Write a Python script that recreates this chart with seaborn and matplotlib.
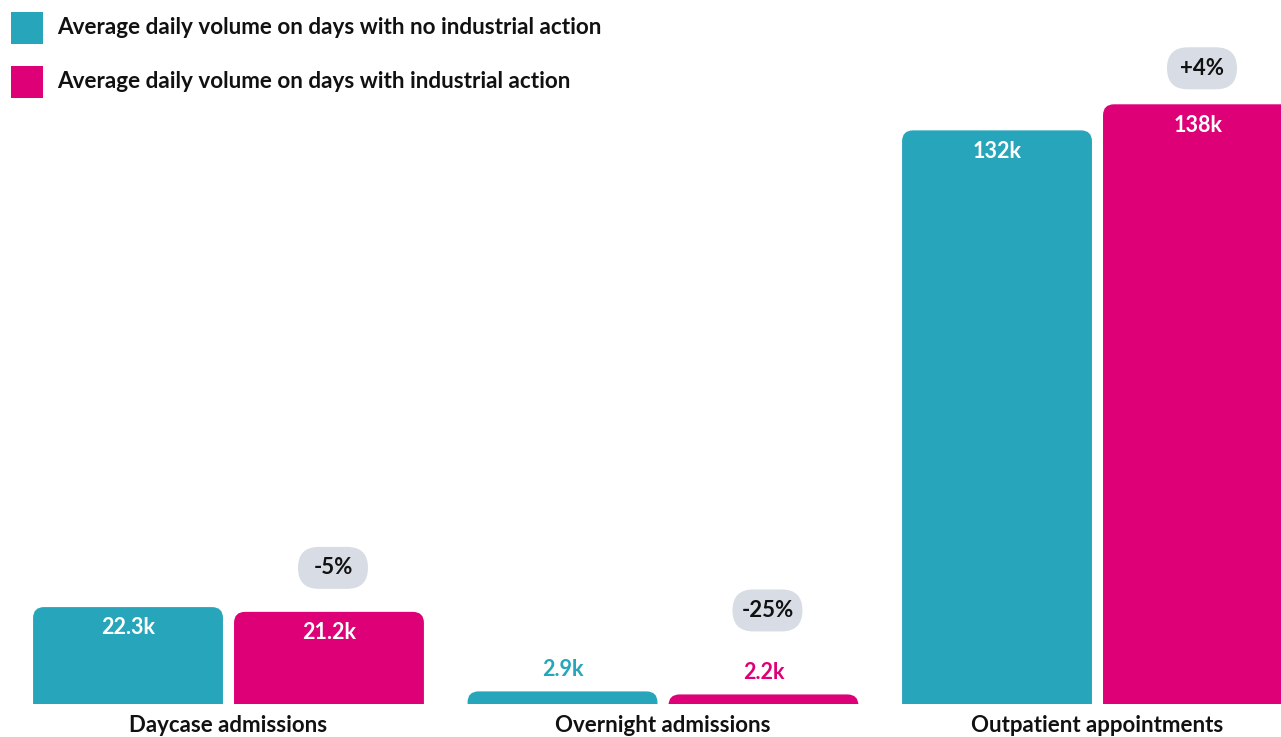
import matplotlib
matplotlib.use("Agg")
import matplotlib.pyplot as plt
import matplotlib.transforms as mtransforms
from matplotlib.patches import FancyBboxPatch, Rectangle
import seaborn as sns
import pandas as pd

# ---- data ----
categories = ["Daycase admissions", "Overnight admissions", "Outpatient appointments"]
series_names = ["Average daily volume on days with no industrial action",
                "Average daily volume on days with industrial action"]
no_action = [22.3, 2.9, 132]
with_action = [21.2, 2.2, 138]
value_labels_no = ["22.3k", "2.9k", "132k"]
value_labels_with = ["21.2k", "2.2k", "138k"]
change_labels = ["-5%", "-25%", "+4%"]

TEAL = "#27A5BB"
MAGENTA = "#DE0077"
PILL = "#D7DCE5"
FONT = "Lato"

sns.set_theme(style="white")
plt.rcParams["font.family"] = [FONT, "DejaVu Sans"]

df = pd.DataFrame({
    "category": categories * 2,
    "series": [series_names[0]] * 3 + [series_names[1]] * 3,
    "value": no_action + with_action,
})

W, H = 1281, 737
fig = plt.figure(figsize=(W / 100, H / 100), dpi=100)
ax = fig.add_axes([0, 33 / H, 1, 704 / H])

sns.barplot(data=df, x="category", y="value", hue="series",
            hue_order=series_names, order=categories,
            palette=[TEAL, MAGENTA], saturation=1, width=0.925, gap=0.055,
            legend=False, ax=ax)

ymax = 162
ax.set_ylim(0, ymax)
ax.set_xlim(-228.5 / 434.5, (W - 228.5) / 434.5)

x_per_px = 1 / 434.5
y_per_px = ymax / 704
aspect = y_per_px / x_per_px
r = 11 * x_per_px

bars = list(ax.patches)
for p in bars:
    x, w, h = p.get_x(), p.get_width(), p.get_height()
    fc = p.get_facecolor()
    p.remove()
    ext = 30 * y_per_px
    fb = FancyBboxPatch((x, -ext), w, h + ext,
                        boxstyle=f"round,pad=0,rounding_size={r}",
                        mutation_aspect=aspect, fc=fc, ec="none", zorder=2)
    ax.add_patch(fb)

# value labels
for i, cat in enumerate(categories):
    for j, (vals, labs, col) in enumerate([(no_action, value_labels_no, TEAL),
                                           (with_action, value_labels_with, MAGENTA)]):
        b = bars[j * 3 + i]
        xc = b.get_x() + b.get_width() / 2
        v = vals[i]
        if v / y_per_px > 40:
            ax.annotate(labs[i], (xc, v), xytext=(0, -15), textcoords="offset points",
                        ha="center", va="center", color="white",
                        fontsize=15.5, fontweight="bold", zorder=3)
        else:
            ax.annotate(labs[i], (xc, v), xytext=(0, 16), textcoords="offset points",
                        ha="center", va="center", color=col,
                        fontsize=15.5, fontweight="bold", zorder=3)

# change pills above the industrial-action bars
pill_offsets = [44, 84, 36]  # px above bar top
for i, lab in enumerate(change_labels):
    b = bars[3 + i]
    xc = b.get_x() + b.get_width() / 2 + 4 * x_per_px
    v = with_action[i]
    trans = fig.dpi_scale_trans + mtransforms.ScaledTranslation(xc, v, ax.transData)
    yo = pill_offsets[i] / 100
    pill = FancyBboxPatch((-0.35, yo - 0.21), 0.70, 0.42,
                          boxstyle="round,pad=0,rounding_size=0.21",
                          transform=trans, fc=PILL, ec="none", zorder=3,
                          clip_on=False)
    ax.add_patch(pill)
    ax.text(0, yo, lab, transform=trans, ha="center", va="center",
            fontsize=16, fontweight="bold", color="#111111", zorder=4)

# axes styling
for s in ax.spines.values():
    s.set_visible(False)
ax.set_yticks([])
ax.set_xlabel("")
ax.set_ylabel("")
ax.tick_params(axis="x", length=0, pad=8)
for t in ax.get_xticklabels():
    t.set_fontsize(16)
    t.set_fontweight("bold")
    t.set_color("#111111")

# legend (manual, top-left)
for k, (name, col) in enumerate(zip(series_names, [TEAL, MAGENTA])):
    yc = 28 + 54 * k
    fig.add_artist(Rectangle((11 / W, 1 - (yc + 16) / H), 32 / W, 32 / H,
                             transform=fig.transFigure, fc=col, ec="none"))
    fig.text(57 / W, 1 - yc / H, name, ha="left", va="center",
             fontsize=16.2, fontweight="bold", color="#111111")

fig.savefig("out.png", dpi=100)
